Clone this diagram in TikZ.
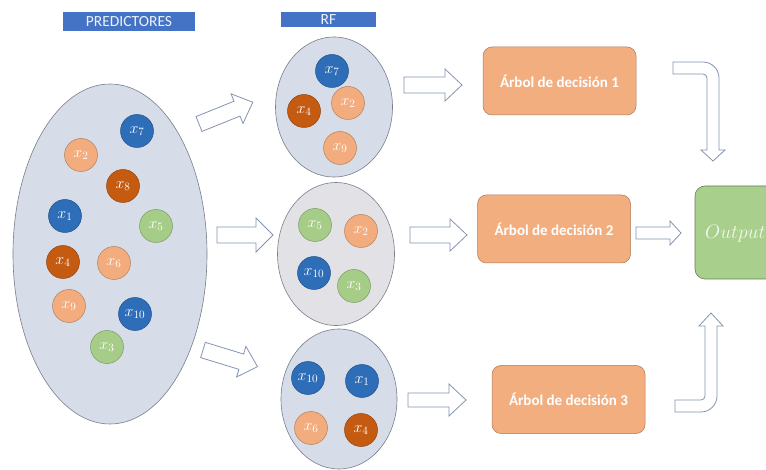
\RequirePackage{fix-cm}
\documentclass[tikz,border=0pt]{standalone}
\usepackage{fontspec}
\setmainfont{Carlito}
\definecolor{xblue}{RGB}{46,109,184}
\definecolor{xrust}{RGB}{197,90,17}
\definecolor{xpeach}{RGB}{242,172,126}
\definecolor{xgreen}{RGB}{166,205,136}
\definecolor{setfill}{RGB}{214,220,232}
\definecolor{setgray}{RGB}{226,226,230}
\definecolor{setline}{RGB}{120,126,138}
\definecolor{tagblue}{RGB}{68,114,196}
\definecolor{boxfill}{RGB}{243,174,128}
\definecolor{outfill}{RGB}{168,207,140}
\definecolor{arrline}{RGB}{132,148,176}
\tikzset{
  var/.style={circle, minimum size=33pt, inner sep=0pt, fill=#1, draw=#1!75!black,
    line width=0.5pt, text=white, font=\fontsize{16}{16}\selectfont},
  setellipse/.style={ellipse, fill=#1, draw=setline, line width=0.6pt, inner sep=0pt},
  tag/.style={fill=tagblue, text=white!90!tagblue, inner sep=0pt,
    font=\fontsize{15.5}{15.5}\selectfont},
  treebox/.style={rounded corners=9pt, fill=boxfill, draw=boxfill!70!black, line width=0.5pt,
    text=white, font=\bfseries\fontsize{15}{15}\selectfont,
    minimum width=153pt, minimum height=68pt, inner sep=0pt},
  blockarr/.style={draw=arrline, fill=white, line width=0.8pt, line join=miter},
}
\usetikzlibrary{shapes.geometric}
% straight block arrow: start point, angle, length, shaft half width, head half width, head length
\newcommand{\barrow}[6]{%
  \draw[blockarr, shift={(#1)}, rotate=#2]
    (0,-#4) -- ({#3-#6},-#4) -- ({#3-#6},-#5) -- (#3,0) -- ({#3-#6},#5)
    -- ({#3-#6},#4) -- (0,#4) -- cycle;}
\begin{document}
\begin{tikzpicture}[x=1pt, y=-1pt]
\useasboundingbox (0,0) rectangle (766,470);
\clip (0,0) rectangle (766,470);
\fill[white] (0,0) rectangle (766,470);

% headers
\node[tag, minimum width=132pt, minimum height=19pt] (hpred) at (129,21.5) {PREDICTORES};
\node[tag, minimum width=95pt, minimum height=15pt] (hrf) at (328.5,19.5) {RF};

% full predictor set
\node[setellipse=setfill, minimum width=194pt, minimum height=340pt] (pool) at (110,254) {};
\node[var=xblue]  (p7)  at (137,131) {$x_7$};
\node[var=xpeach] (p2)  at (81,155)  {$x_2$};
\node[var=xrust]  (p8)  at (123,186) {$x_8$};
\node[var=xblue]  (p1)  at (65,216)  {$x_1$};
\node[var=xgreen] (p5)  at (156,226) {$x_5$};
\node[var=xrust]  (p4)  at (63,262)  {$x_4$};
\node[var=xpeach] (p6)  at (114,263) {$x_6$};
\node[var=xpeach] (p9)  at (69,306)  {$x_9$};
\node[var=xblue]  (p10) at (135,314) {$x_{10}$};
\node[var=xgreen] (p3)  at (107,347) {$x_3$};

% random subsets
\node[setellipse=setfill, minimum width=117pt, minimum height=140pt] (s1) at (334,107) {};
\node[var=xblue]  (a7) at (332,71)  {$x_7$};
\node[var=xrust]  (a4) at (304,111) {$x_4$};
\node[var=xpeach] (a2) at (348,103) {$x_2$};
\node[var=xpeach] (a9) at (340,148) {$x_9$};

\node[setellipse=setgray, minimum width=117pt, minimum height=143pt] (s2) at (336,254) {};
\node[var=xgreen] (b5)  at (315,225) {$x_5$};
\node[var=xpeach] (b2)  at (361,231) {$x_2$};
\node[var=xblue]  (b10) at (314,273) {$x_{10}$};
\node[var=xgreen] (b3)  at (354,286) {$x_3$};

\node[setellipse=setfill, minimum width=116pt, minimum height=140pt] (s3) at (339,399) {};
\node[var=xblue]  (c10) at (308,378) {$x_{10}$};
\node[var=xblue]  (c1)  at (362,381) {$x_1$};
\node[var=xpeach] (c6)  at (311,428) {$x_6$};
\node[var=xrust]  (c4)  at (361,430) {$x_4$};

% sampling arrows
\barrow{199,124}{22}{58}{8}{16}{17}
\barrow{217,235}{0}{56}{8}{17}{17}
\barrow{203,350}{-17}{57}{8}{16}{17}

% subsets to trees
\barrow{404,85}{0}{58}{8}{16}{17}
\barrow{410,235}{0}{57}{8}{16}{17}
\barrow{408,400}{0}{58}{7}{16}{17}

% decision trees
\node[treebox] (t1) at (559.5,81)  {Árbol de decisión 1};
\node[treebox] (t2) at (554,229)   {Árbol de decisión 2};
\node[treebox] (t3) at (568.5,399.5) {Árbol de decisión 3};

% aggregated output
\node[rounded corners=10pt, fill=outfill, draw=outfill!60!black, line width=0.6pt,
      minimum width=110pt, minimum height=93pt, inner sep=0pt] (out) at (750,232.5) {};
\node[anchor=west, text=white!85!outfill, inner sep=0pt,
      font=\fontsize{19.5}{19.5}\selectfont] (outtxt) at (705,234) {$Output$};

% trees to output
\draw[blockarr] (673,62) -- (703,62) .. controls (711.8,62) and (719,69.2) .. (719,78)
  -- (719,150) -- (725,150) -- (713,161) -- (701,150) -- (707,150) -- (707,78)
  .. controls (707,75.8) and (705.2,74) .. (703,74) -- (673,74) -- cycle;
\barrow{636,233}{0}{45}{6}{12}{11}
\draw[blockarr] (675,400) -- (701,400) .. controls (703.2,400) and (705,398.2) .. (705,396)
  -- (705,326) -- (699,326) -- (711,313) -- (723,326) -- (717,326) -- (717,396)
  .. controls (717,404.8) and (709.8,412) .. (701,412) -- (675,412) -- cycle;
\end{tikzpicture}
\end{document}
